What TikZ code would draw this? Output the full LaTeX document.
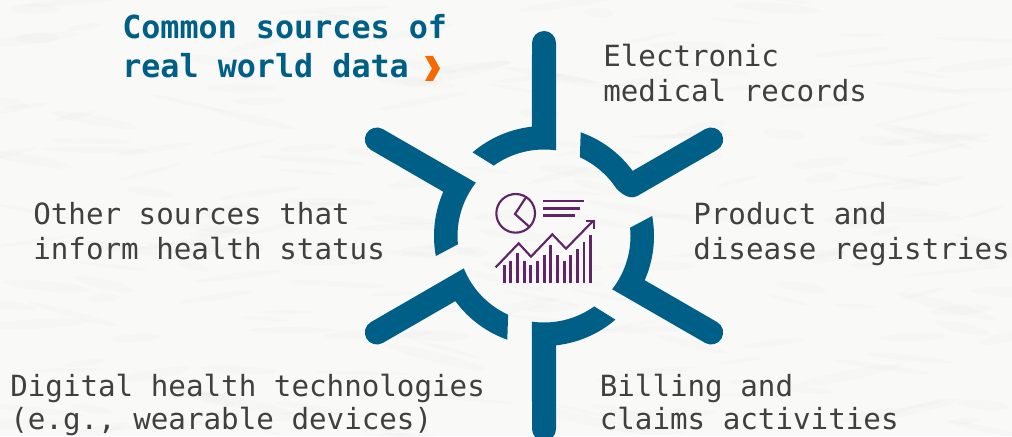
\documentclass[tikz,border=0pt]{standalone}
\usepackage{fontspec}
\setmonofont{DejaVu Sans Mono}
\definecolor{paper}{HTML}{F9F9F8}
\definecolor{petrol}{HTML}{005F86}
\definecolor{labelgrey}{HTML}{404040}
\definecolor{plum}{HTML}{5F2568}
\definecolor{chev}{HTML}{F56A00}
\tikzset{
  labeltext/.style={anchor=base west,inner sep=0pt,text=labelgrey,font=\fontsize{21.9pt}{26.25pt}\selectfont\ttfamily},
  titletext/.style={anchor=base west,inner sep=0pt,text=petrol,font=\fontsize{23.8pt}{29.25pt}\selectfont\ttfamily\bfseries},
  iconline/.style={draw=plum,line width=1.6pt},
  iconbar/.style={draw=plum,line width=2.1pt},
  piece/.style={fill=petrol}
}
\begin{document}
\begin{tikzpicture}[x=.75pt,y=.75pt]
\useasboundingbox (0,0) rectangle (1012,436);
\clip (0,0) rectangle (1012,436);
\fill[paper] (0,0) rectangle (1012,436);
% paper texture
\pgfmathsetseed{7}
\foreach \i in {1,...,220}{
  \pgfmathsetmacro{\px}{random(0,1012)}
  \pgfmathsetmacro{\py}{random(0,436)}
  \pgfmathsetmacro{\pa}{random(15,55)}
  \pgfmathsetmacro{\pb}{random(2,5)}
  \pgfmathsetmacro{\pr}{random(0,30)-15}
  \fill[black,opacity=.01,rotate around={\pr:(\px,\py)}] (\px,\py) ellipse[x radius=\pa,y radius=\pb];
}
% ring pieces
\foreach \rot in {0,60,120,180,240}{
\begin{scope}[shift={(544,200)},rotate=\rot]
\fill[piece] (82:86.5) -- (12,193) arc[start angle=0,end angle=180,radius=12]
  -- (96.3:110) arc[start angle=96.3,end angle=130.5,radius=110]
  -- (125.5:86.5) arc[start angle=125.5,end angle=82,radius=86.5] -- cycle;
\end{scope}}
\begin{scope}[shift={(544,200)},rotate=300]
\fill[piece] (12,101) -- (12,193) arc[start angle=0,end angle=180,radius=12]
  -- (96.3:110) arc[start angle=96.3,end angle=130.5,radius=110]
  -- (125.5:86.5) arc[start angle=125.5,end angle=93.3,radius=86.5]
  .. controls (5,89) and (11.5,93) .. (12,101) -- cycle;
\end{scope}
% icon (origin at reference 480,180; drawn in thirds of a pixel)
\begin{scope}[shift={(480,256)},x=.25pt,y=-.25pt]
\draw[iconline] (107,100) circle[radius=58];
\draw[iconline,line join=miter] (138,52) -- (105,102) -- (150,142);
\foreach \ya/\xb in {63/312,85/300,106/285}{
  \draw[plum,line width=2.1pt] (190,\ya) -- (\xb,\ya);
}
\draw[iconline,line join=miter] (47,262) -- (116,190) -- (153,230) -- (217,163) -- (258,206) -- (338,124);
\draw[iconline,line join=miter] (318,122) -- (341,122) -- (341,146);
\foreach \bx/\bt in {73/255,92/243,112/218,133/243,152/255,172/243,193/225,212/195,232/225,253/243,272/225,292/207,312/185,332/165}{
  \draw[iconbar] (\bx,308) -- (\bx,\bt);
}
\end{scope}
% labels
\node[titletext] (t1) at (122,397.5) {Common sources of};
\node[titletext] (t2) at (122,358.5) {real world data};
\fill[chev] (425,380) -- (433,380) -- (440,367.5) -- (433,355) -- (425,355) -- (432,367.5) -- cycle;
\node[labeltext] (a1) at (603,369) {Electronic};
\node[labeltext] (a2) at (603,334) {medical records};
\node[labeltext] (b1) at (693,211.5) {Product and};
\node[labeltext] (b2) at (693,176.5) {disease registries};
\node[labeltext] (c1) at (599.5,39.5) {Billing and};
\node[labeltext] (c2) at (599.5,6.5) {claims activities};
\node[labeltext] (d1) at (10,39.5) {Digital health technologies};
\node[labeltext] (d2) at (10,6.5) {(e.g., wearable devices)};
\node[labeltext] (e1) at (33,211.5) {Other sources that};
\node[labeltext] (e2) at (33,176.5) {inform health status};
\end{tikzpicture}
\end{document}
